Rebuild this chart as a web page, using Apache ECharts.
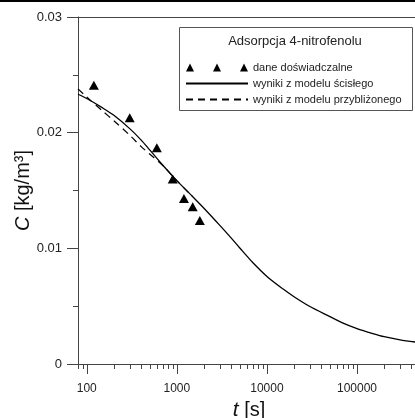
<!DOCTYPE html>
<html>
<head>
<meta charset="utf-8">
<script src="https://cdn.jsdelivr.net/npm/echarts@6/dist/echarts.min.js"></script>
<style>
  html, body { margin: 0; padding: 0; background: #fff; }
  #main { width: 415px; height: 418px; }
</style>
</head>
<body>
<div id="main"></div>
<script>
// dane doświadczalne (trójkąty)
var tExp = [120, 300, 600, 900, 1200, 1500, 1800];
var cExp = [0.0241, 0.0213, 0.0187, 0.0160, 0.0143, 0.0136, 0.0124];

// model ścisły (linia ciągła)
var tSolid = [80, 100, 150, 200, 300, 400, 500, 700, 1000, 1500, 2000, 3000, 4000, 5000, 7000,
    10000, 15000, 20000, 30000, 50000, 70000, 100000, 150000, 200000, 300000, 441000];
var cSolid = [0.02332, 0.02295, 0.02214, 0.0215, 0.02035, 0.01938, 0.01851, 0.01718, 0.01585,
    0.01447, 0.01347, 0.01199, 0.01091, 0.01003, 0.00875, 0.00757, 0.0065, 0.00582, 0.00497,
    0.0041, 0.00353, 0.00306, 0.00263, 0.00236, 0.00209, 0.0019];

// model przybliżony (linia przerywana)
var tDashed = [80, 100, 150, 200, 300, 400, 500, 700, 1000, 1500];
var cDashed = [0.02379, 0.02308, 0.02187, 0.02103, 0.01978, 0.01881, 0.01815, 0.01715, 0.01585, 0.01447];

// podziałka osi t
var xMajorTicks = [100, 1000, 10000, 100000];
var xMinorTicks = [80, 90, 200, 300, 400, 500, 600, 700, 800, 900,
    2000, 3000, 4000, 5000, 6000, 7000, 8000, 9000,
    20000, 30000, 40000, 50000, 60000, 70000, 80000, 90000,
    200000, 300000, 400000];

var font = 'Liberation Sans, Arial, sans-serif';
var axisColor = '#444';

function pairs(xs, ys) {
    return xs.map(function (x, i) { return [x, ys[i]]; });
}

// rysuje kreski podziałki osi t (skala logarytmiczna)
function tickSeries(values, len) {
    return {
        type: 'custom',
        silent: true,
        clip: false,
        data: values.map(function (v) { return [v, 0]; }),
        renderItem: function (params, api) {
            var p = api.coord([api.value(0), 0]);
            var x = Math.round(p[0]) + 0.5;
            return {
                type: 'line',
                shape: { x1: x, y1: p[1], x2: x, y2: p[1] + len },
                style: { stroke: axisColor, lineWidth: 1 }
            };
        }
    };
}

var myChart = echarts.init(document.getElementById('main'));

var option = {
    animation: false,
    textStyle: { fontFamily: font },
    grid: { left: 78, top: 17, right: -5, bottom: 54, outerBoundsMode: 'none', containLabel: false },
    xAxis: [{
        type: 'log',
        min: 80,
        max: 500000,
        axisLine: { lineStyle: { color: axisColor } },
        axisTick: { show: false },
        splitLine: { show: false },
        axisLabel: {
            margin: 19,
            fontSize: 12,
            color: '#222',
            showMinLabel: false,
            showMaxLabel: false,
            formatter: function (v) {
                return xMajorTicks.indexOf(Math.round(v)) >= 0 ? String(Math.round(v)) : '';
            }
        },
        name: '{i|t} [s]',
        nameLocation: 'middle',
        nameGap: 32,
        nameTextStyle: {
            fontSize: 20, color: '#111',
            rich: { i: { fontSize: 21, fontStyle: 'italic', color: '#111' } }
        }
    }, {
        type: 'log',
        position: 'top',
        min: 80,
        max: 500000,
        axisLine: { lineStyle: { color: axisColor } },
        axisTick: { show: false },
        axisLabel: { show: false },
        splitLine: { show: false }
    }],
    yAxis: {
        type: 'value',
        min: 0,
        max: 0.03,
        interval: 0.01,
        axisLine: { show: true, lineStyle: { color: axisColor } },
        axisTick: { show: true, length: 11, lineStyle: { color: axisColor } },
        minorTick: { show: true, splitNumber: 2, length: 5, lineStyle: { color: axisColor } },
        splitLine: { show: false },
        axisLabel: { margin: 16, fontSize: 13, color: '#222' },
        name: '{i|C} [kg/m³]',
        nameLocation: 'middle',
        nameGap: 45,
        nameMoveOverlap: false,
        nameTextStyle: {
            fontSize: 20, color: '#111',
            rich: { i: { fontSize: 20, fontStyle: 'italic', color: '#111' } }
        }
    },
    legend: {
        orient: 'vertical',
        left: 185,
        top: 62,
        padding: 0,
        itemGap: 5,
        itemWidth: 62,
        itemHeight: 8,
        selectedMode: false,
        z: 10,
        textStyle: { fontSize: 11, color: '#222', fontFamily: font },
        data: [
            { name: 'dane doświadczalne', icon: 'path://M0,8L4,0L8,8ZM27,8L31,0L35,8ZM54,8L58,0L62,8Z' },
            { name: 'wyniki z modelu ścisłego', itemStyle: { opacity: 0 } },
            { name: 'wyniki z modelu przybliżonego', itemStyle: { opacity: 0 } }
        ]
    },
    graphic: [
        {
            type: 'rect', z: 5,
            shape: { x: 0, y: 0, width: 415, height: 2 },
            style: { fill: '#000' }
        },
        {
            type: 'rect', z: 5,
            shape: { x: 179.5, y: 27.5, width: 233, height: 83 },
            style: { fill: '#fff', stroke: '#555', lineWidth: 1 }
        },
        {
            type: 'text', z: 6,
            x: 295, y: 41,
            style: {
                text: 'Adsorpcja 4-nitrofenolu',
                fontSize: 13, fontFamily: font, fill: '#222',
                align: 'center', verticalAlign: 'middle'
            }
        }
    ],
    series: [
        {
            name: 'dane doświadczalne',
            type: 'scatter',
            symbol: 'triangle',
            symbolSize: [10, 9],
            itemStyle: { color: '#000', opacity: 1 },
            data: pairs(tExp, cExp)
        },
        {
            name: 'wyniki z modelu ścisłego',
            type: 'line',
            symbol: 'none',
            smooth: 0.3,
            lineStyle: { color: '#000', width: 1.3 },
            itemStyle: { color: '#000' },
            data: pairs(tSolid, cSolid)
        },
        {
            name: 'wyniki z modelu przybliżonego',
            type: 'line',
            symbol: 'none',
            smooth: 0.3,
            lineStyle: { color: '#000', width: 1.2, type: [7, 5] },
            itemStyle: { color: '#000' },
            data: pairs(tDashed, cDashed)
        },
        tickSeries(xMajorTicks, 10),
        tickSeries(xMinorTicks, 5)
    ]
};

myChart.setOption(option);
</script>
</body>
</html>
